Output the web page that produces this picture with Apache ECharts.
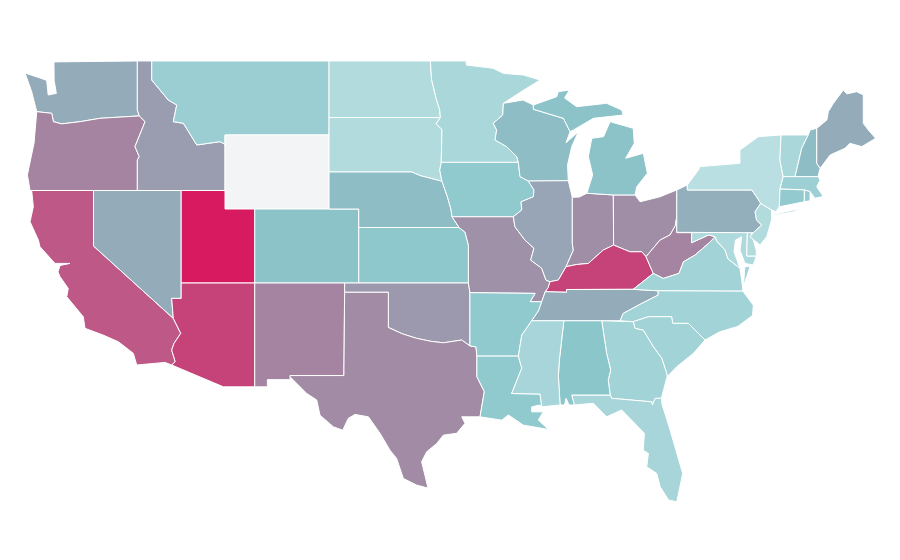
<!DOCTYPE html>
<html>
<head>
<meta charset="utf-8">
<script src="https://cdn.jsdelivr.net/npm/echarts@6/dist/echarts.min.js"></script>
<style>
html, body { margin: 0; padding: 0; background: #fff; }
#main { width: 900px; height: 560px; }
</style>
</head>
<body>
<div id="main"></div>
<script>
// values, Wyoming has no value
var stateNames = ['New York','North Dakota','South Dakota','New Jersey','Delaware','Maryland','Minnesota','Vermont','Florida','Mississippi',
    'Virginia','North Carolina','South Carolina','Georgia','Massachusetts','Montana','Rhode Island','Connecticut','Arkansas','Louisiana',
    'Iowa','Kansas','Alabama','Colorado','Michigan','Nebraska','Wisconsin','New Hampshire','Pennsylvania','Washington',
    'Nevada','Maine','Tennessee','Illinois','Idaho','Oklahoma','Missouri','Indiana','Ohio','Texas',
    'West Virginia','Oregon','New Mexico','California','Kentucky','Arizona','Utah'];
var stateValues = [2, 5, 5, 5, 5, 6, 8, 8, 9, 9,
    11, 11, 11, 11, 13, 14, 16, 17, 18, 18,
    18, 19, 20, 22, 22, 26, 26, 26, 36, 38,
    38, 38, 38, 42, 47, 49, 53, 55, 55, 56,
    60, 60, 60, 80, 87, 87, 100];
var rampColors = ['#bfe2e4', '#8bc6cb', '#95a9b8', '#a484a0', '#bd5887', '#d81b60'];

// shared borders, lon/lat
var stCroix = [[-92.32,46.71],[-92.36,46.08],[-93.0,45.63],[-92.77,45.27],[-92.88,44.73]];
var misWiMn = [[-92.88,44.73],[-92.1,44.37],[-91.42,43.83],[-91.31,43.52]];
var misWiIa = [[-91.31,43.52],[-91.2,42.75],[-90.64,42.51]];
var misIlIa = [[-90.64,42.51],[-90.26,42.03],[-90.3,41.66],[-91.13,41.39],[-91.08,40.95],[-91.65,40.58]];
var misIlMo = [[-91.65,40.58],[-91.54,40.04],[-90.87,39.32],[-90.26,38.88],[-90.48,38.24],[-89.74,37.8],[-89.45,37.16],[-89.18,37.07]];
var misKyMo = [[-89.18,37.07],[-89.3,36.75],[-89.5,36.53]];
var misTnMo = [[-89.5,36.53],[-89.74,35.99]];
var misTnAr = [[-89.74,35.99],[-89.95,35.5],[-90.41,34.96]];
var misMsAr = [[-90.41,34.96],[-91.08,34.19],[-91.31,33.05]];
var misMsLa = [[-91.31,33.05],[-91.08,32.4],[-91.76,31.03]];
var ohKyOh = [[-82.72,38.42],[-83.0,38.69],[-83.8,38.69],[-84.9,39.05]];
var ohKyIn = [[-84.9,39.05],[-85.6,38.78],[-86.6,38.06],[-87.4,38.0],[-88.1,37.88]];
var ohKyIl = [[-88.1,37.88],[-88.62,37.16],[-89.18,37.07]];
var ohWvOh = [[-82.72,38.42],[-81.78,39.32],[-81.1,39.6],[-80.75,40.1],[-80.65,40.58]];
var wabash = [[-88.1,37.88],[-87.61,38.78],[-87.68,39.15]];
var kyVa = [[-83.58,36.66],[-82.23,37.52]];
var kyWv = [[-82.23,37.52],[-82.72,38.42]];
var wvVa = [[-78.07,39.5],[-78.5,39.15],[-79.42,38.51],[-80.2,38.15],[-80.5,37.52],[-81.55,37.25],[-82.23,37.52]];
var wvMd = [[-79.65,39.18],[-78.5,39.6],[-78.07,39.5]];
var potomac = [[-78.07,39.5],[-77.96,39.27],[-77.4,38.78],[-77.2,38.3],[-76.4,37.8]];
var nyPa = [[-75.0,41.3],[-75.28,41.66],[-75.6,42.03],[-79.94,42.03],[-79.94,42.3]];
var delaware = [[-75.5,39.72],[-74.93,40.13],[-75.28,40.4],[-75.38,40.85],[-75.0,41.3]];
var ncTn = [[-81.9,36.58],[-81.9,36.35],[-83.0,35.9],[-84.25,35.36],[-84.47,34.96]];
var ncSc = [[-83.58,34.91],[-82.56,35.18],[-81.0,35.18],[-80.92,34.82],[-79.87,34.82],[-78.75,33.92]];
var gaSc = [[-83.58,34.91],[-83.46,34.55],[-82.9,34.45],[-82.23,33.56],[-81.66,32.93],[-81.33,32.12],[-81.3,31.94]];
var gaFl = [[-81.66,30.77],[-82.1,30.77],[-82.3,30.41],[-82.33,30.58],[-85.03,30.77],[-85.13,30.95]];
var alGa = [[-85.7,34.96],[-85.37,33.2],[-85.1,32.3],[-85.26,31.76],[-85.13,30.95]];
var msAl = [[-88.25,34.96],[-88.55,32.84],[-88.62,31.97],[-88.5,30.41]];
var pearl = [[-91.76,31.03],[-89.85,31.0],[-89.73,30.31]];
var redRiver = [[-100.06,34.6],[-99.1,34.25],[-98.15,34.01],[-97.2,33.85],[-96.36,33.77],[-95.12,33.92],[-94.57,33.6]];
var missouriR = [[-95.77,40.58],[-95.85,41.0],[-96.1,41.7],[-96.45,42.5]];
var sdMn = [[-96.5,43.52],[-96.45,45.3],[-96.85,45.6],[-96.56,45.94]];
var ndMn = [[-96.56,45.94],[-96.6,46.35],[-96.85,47.0],[-97.15,48.0],[-97.23,49.0]];
var idMt = [[-115.98,49.0],[-115.98,47.97],[-114.87,46.89],[-114.3,46.62],[-114.53,45.72],[-113.85,45.63],[-112.95,44.46],[-111.39,44.64],[-111.05,44.5]];
var idOr = [[-116.95,42.0],[-116.95,43.65],[-116.82,43.83],[-117.11,44.37],[-116.43,45.72],[-116.82,46.03]];
var waOr = [[-116.82,46.03],[-119.46,45.9],[-120.8,45.72],[-122.04,45.6],[-122.6,45.72],[-122.71,46.17],[-123.72,46.26]];
var caAz = [[-114.53,35.09],[-114.03,34.28],[-114.48,33.74],[-114.64,33.38],[-114.4,32.75],[-114.64,32.57]];

function rev(line) { return line.slice().reverse(); }
function ring() { return Array.prototype.concat.apply([], arguments); }

var shapes = {
    'Washington': [ring([[-124.51,48.35],[-123.5,48.08],[-123.05,47.95],[-122.95,47.16],[-122.4,47.25],[-122.55,47.95],[-122.56,48.95],[-122.56,49.0],[-116.95,49.0],[-116.95,46.35]], waOr, [[-124.06,47.34]])],
    'Oregon': [ring(rev(waOr), rev(idOr), [[-124.17,42.0],[-124.35,42.84],[-123.9,44.57]])],
    'California': [ring([[-124.06,42.0],[-119.9,42.0],[-119.9,39.0]], caAz, [[-115.09,32.71],[-116.99,32.57],[-117.22,33.2],[-118.23,33.83],[-119.26,34.19],[-120.47,34.55],[-120.59,35.18],[-121.7,36.26],[-121.6,36.71],[-122.15,37.34],[-122.29,37.6],[-122.15,37.95],[-121.48,38.06],[-122.49,38.06],[-123.5,38.96],[-123.61,39.32],[-124.17,40.31],[-123.95,41.12]])],
    'Nevada': [[[-119.9,42.0],[-114.0,42.0],[-114.0,36.17],[-114.64,36.17],[-114.53,35.09],[-119.9,39.0]]],
    'Idaho': [ring([[-116.95,49.0]], idMt, [[-111.05,42.0]], idOr, [[-116.95,46.35]])],
    'Montana': [ring(idMt, [[-111.05,45.0],[-104.05,45.0],[-104.05,49.0]])],
    'Wyoming': [[[-111.05,45.0],[-104.05,45.0],[-104.05,41.0],[-111.05,41.0]]],
    'Utah': [[[-114.0,42.0],[-111.05,42.0],[-111.05,41.0],[-109.05,41.0],[-109.05,37.0],[-114.0,37.0]]],
    'Arizona': [ring([[-114.0,37.0],[-109.05,37.0],[-109.05,31.39],[-111.16,31.39]], rev(caAz), [[-114.64,36.17],[-114.0,36.17]])],
    'Colorado': [[[-109.05,41.0],[-102.05,41.0],[-102.05,37.0],[-109.05,37.0]]],
    'New Mexico': [[[-109.05,37.0],[-103.0,37.0],[-103.05,32.0],[-106.67,32.0],[-106.67,31.78],[-108.2,31.78],[-108.2,31.39],[-109.05,31.39]]],
    'North Dakota': [ring([[-104.05,49.0]], rev(ndMn), [[-104.05,45.94]])],
    'South Dakota': [ring([[-104.05,45.94]], rev(sdMn), [[-96.6,43.1],[-96.45,42.5],[-97.9,42.8],[-98.5,43.0],[-104.05,43.0]])],
    'Nebraska': [ring([[-104.05,43.0],[-98.5,43.0],[-97.9,42.8]], rev(missouriR), [[-95.3,40.0],[-102.05,40.0],[-102.05,41.0],[-104.05,41.0]])],
    'Kansas': [[[-102.05,40.0],[-95.3,40.0],[-94.9,39.75],[-94.67,39.05],[-94.67,37.0],[-102.05,37.0]]],
    'Oklahoma': [ring([[-103.0,37.0],[-94.67,37.0],[-94.57,36.48],[-94.57,34.82]], rev(redRiver), [[-100.06,36.5],[-103.0,36.5]])],
    'Texas': [ring([[-103.0,36.5],[-100.06,36.5]], redRiver, [[-94.16,33.55],[-94.1,33.05],[-94.1,31.94],[-93.6,31.13],[-93.89,29.77],[-95.12,29.77],[-94.9,29.42],[-95.46,28.88],[-96.36,28.78],[-96.8,28.33],[-97.48,27.88],[-97.82,27.34],[-97.6,26.62],[-97.39,25.92],[-98.15,26.08],[-99.05,26.44],[-99.5,27.52],[-99.95,27.97],[-100.62,28.88],[-101.4,29.77],[-102.3,29.9],[-102.75,29.69],[-103.13,29.05],[-103.76,29.23],[-104.66,29.86],[-104.88,30.68],[-105.55,31.03],[-106.67,31.93],[-106.67,32.0],[-103.05,32.0]])],
    'Minnesota': [ring([[-97.23,49.0],[-94.9,49.0],[-94.9,49.32],[-94.8,48.78],[-93.0,48.6],[-92.32,48.33],[-90.97,48.24],[-89.85,47.97],[-91.0,47.4]], stCroix, misWiMn, sdMn, ndMn.slice(1))],
    'Iowa': [ring([[-96.5,43.52]], misWiIa, misIlIa, missouriR, [[-96.6,43.1]])],
    'Missouri': [ring([[-95.77,40.58]], misIlMo, misKyMo, misTnMo, [[-90.52,35.99],[-90.18,36.44],[-94.57,36.48],[-94.67,37.0],[-94.67,39.05],[-94.9,39.75],[-95.3,40.0]])],
    'Arkansas': [ring([[-94.57,36.48],[-90.18,36.44],[-90.52,35.99]], misTnAr, misMsAr, [[-94.1,33.05],[-94.16,33.55],[-94.57,33.6],[-94.57,34.82]])],
    'Louisiana': [ring([[-94.1,33.05]], misMsLa, pearl.slice(1), [[-89.85,30.41],[-90.41,30.31],[-90.41,30.04],[-89.63,30.04],[-89.97,29.6],[-89.29,29.09],[-90.3,29.23],[-90.97,29.32],[-91.98,29.87],[-92.43,29.59],[-93.89,29.77],[-93.6,31.13],[-94.1,31.94]])],
    'Wisconsin': [ring([[-92.32,46.71],[-91.0,46.89],[-90.3,46.62],[-90.3,46.39],[-88.28,45.9],[-87.83,45.18],[-88.1,44.58],[-87.27,45.18],[-87.72,44.37],[-88.0,43.38],[-87.95,42.53]], rev(misWiIa), rev(misWiMn), rev(stCroix))],
    'Illinois': [ring([[-87.68,41.63],[-87.68,39.15]], rev(wabash).slice(1), ohKyIl, rev(misIlMo), rev(misIlIa), [[-87.95,42.53]])],
    'Indiana': [ring([[-84.92,41.76]], ohKyIn, wabash, [[-87.68,41.63],[-87.2,41.65],[-86.7,41.85]])],
    'Ohio': [ring([[-80.65,42.03]], rev(ohWvOh), ohKyOh, [[-84.92,41.76],[-83.46,41.76],[-83.12,41.39],[-81.78,41.66]])],
    'Michigan': [
        [[-84.92,41.76],[-83.46,41.76],[-83.34,42.2],[-82.63,42.93],[-82.9,44.01],[-84.09,43.74],[-83.51,44.55],[-83.58,45.36],[-85.14,45.72],[-85.58,44.91],[-86.37,44.82],[-86.6,43.83],[-86.31,42.84],[-86.7,41.85]],
        [[-90.3,46.62],[-88.73,47.07],[-88.62,47.34],[-87.87,47.43],[-88.2,47.0],[-87.39,46.53],[-85.37,46.71],[-84.36,46.35],[-84.25,46.08],[-86.26,45.9],[-87.6,45.27],[-87.83,45.18],[-88.28,45.9],[-90.3,46.39]]
    ],
    'Kentucky': [ring(rev(kyWv), rev(kyVa), [[-88.07,36.65],[-88.07,36.5],[-89.5,36.53]], rev(misKyMo), rev(ohKyIl), rev(ohKyIn), rev(ohKyOh))],
    'Tennessee': [ring([[-89.5,36.53],[-88.07,36.5],[-88.07,36.65],[-83.58,36.66],[-81.9,36.58]], ncTn, rev(misTnAr), rev(misTnMo))],
    'West Virginia': [ring([[-80.65,40.58],[-80.65,39.72],[-79.65,39.72]], wvMd, wvVa, kyWv, ohWvOh)],
    'Virginia': [
        ring(kyVa, rev(wvVa), potomac, [[-76.28,37.16],[-76.2,36.56],[-81.9,36.58]]),
        [[-76.17,36.8],[-75.72,37.88],[-76.06,37.9]]
    ],
    'North Carolina': [ring([[-76.2,36.56],[-81.9,36.58]], ncTn, [[-83.58,34.91]], ncSc.slice(1), [[-77.74,34.37],[-76.55,34.65],[-75.55,35.25],[-75.5,35.8]])],
    'South Carolina': [ring(ncSc, [[-79.53,33.2],[-80.65,32.48]], rev(gaSc))],
    'Georgia': [ring(alGa, rev(gaFl), [[-81.66,30.86],[-81.3,31.94]], rev(gaSc).slice(1))],
    'Florida': [ring([[-87.72,30.95]], rev(gaFl), [[-81.66,30.5],[-81.1,29.05],[-80.25,26.71],[-80.65,25.18],[-81.2,25.27],[-81.77,25.99],[-82.0,26.71],[-82.67,27.07],[-82.56,27.79],[-82.9,27.97],[-82.83,28.88],[-83.58,29.5],[-84.36,30.14],[-85.37,29.77],[-86.26,30.5],[-87.54,30.41]])],
    'Alabama': [ring([[-88.25,34.96]], alGa, [[-87.72,30.95],[-87.54,30.41],[-87.9,30.41],[-88.1,30.77],[-88.2,30.41]], rev(msAl))],
    'Mississippi': [ring([[-90.41,34.96]], msAl, [[-89.73,30.31]], rev(pearl).slice(1), rev(misMsLa), rev(misMsAr))],
    'Maryland': [ring([[-79.65,39.72],[-75.9,39.77],[-75.94,38.46],[-75.3,38.46],[-75.5,37.97],[-76.06,38.06],[-76.4,38.78],[-76.28,39.5],[-76.7,39.32],[-76.8,38.7],[-76.4,37.8]], rev(potomac), rev(wvMd))],
    'Delaware': [[[-75.9,39.77],[-75.7,39.8],[-75.55,39.45],[-75.3,38.78],[-75.3,38.46],[-75.94,38.46]]],
    'Pennsylvania': [ring([[-80.65,39.74],[-75.5,39.72]], delaware, nyPa.slice(1), [[-80.65,42.03]])],
    'New Jersey': [ring(delaware, [[-74.27,40.95],[-74.27,40.4],[-74.6,39.5],[-75.05,39.05],[-75.72,39.5]])],
    'New York': [
        ring(nyPa, [[-79.2,43.1],[-79.08,43.29],[-76.4,43.47],[-76.4,44.19],[-75.16,44.91],[-73.63,45.0],[-73.71,43.65],[-73.49,42.75],[-73.7,42.08],[-73.75,41.12],[-73.97,40.85],[-74.27,40.95]]),
        [[-74.27,40.68],[-72.8,40.95],[-72.24,41.04],[-72.8,40.85],[-73.92,40.68]]
    ],
    'Vermont': [[[-73.63,45.0],[-71.8,45.0],[-72.24,44.28],[-72.69,42.75],[-73.49,42.75],[-73.71,43.65]]],
    'New Hampshire': [[[-71.8,45.0],[-71.68,45.27],[-71.23,45.36],[-71.23,43.47],[-71.0,43.2],[-71.15,42.75],[-72.69,42.75],[-72.24,44.28]]],
    'Maine': [[[-71.23,45.36],[-70.55,45.81],[-70.45,46.26],[-70.11,46.71],[-69.44,47.43],[-69.2,47.22],[-68.55,47.34],[-68.1,47.17],[-68.1,45.63],[-67.76,45.27],[-67.27,44.82],[-68.2,44.37],[-69.0,44.55],[-69.33,44.28],[-70.33,43.92],[-71.0,43.2],[-71.23,43.47]]],
    'Massachusetts': [[[-73.7,42.08],[-73.49,42.75],[-71.15,42.75],[-71.0,42.57],[-71.23,42.2],[-70.78,41.66],[-70.33,41.76],[-71.35,41.58],[-71.68,41.94],[-72.07,42.03]]],
    'Rhode Island': [[[-72.07,42.03],[-71.68,41.94],[-71.68,41.45],[-72.07,41.39]]],
    'Connecticut': [[[-73.7,42.08],[-72.07,42.03],[-72.07,41.39],[-73.75,41.12]]]
};

var usaJson = { type: 'FeatureCollection', features: Object.keys(shapes).map(function (name) {
    return {
        type: 'Feature',
        properties: { name: name },
        geometry: { type: 'MultiPolygon', coordinates: shapes[name].map(function (r) { return [r.concat([r[0]])]; }) }
    };
}) };

echarts.registerMap('USA', usaJson);

var myChart = echarts.init(document.getElementById('main'), null, { renderer: 'canvas' });
myChart.setOption({
    animation: false,
    visualMap: {
        show: false,
        min: 0,
        max: 100,
        inRange: { color: rampColors }
    },
    series: [{
        type: 'map',
        map: 'USA',
        roam: false,
        aspectScale: 0.803,
        layoutCenter: [450.3, 278.4],
        layoutSize: 850.6,
        label: { show: false },
        itemStyle: { areaColor: '#f3f4f6', borderColor: '#ffffff', borderWidth: 1 },
        data: stateNames.map(function (n, i) { return { name: n, value: stateValues[i] }; })
    }]
});
</script>
</body>
</html>
